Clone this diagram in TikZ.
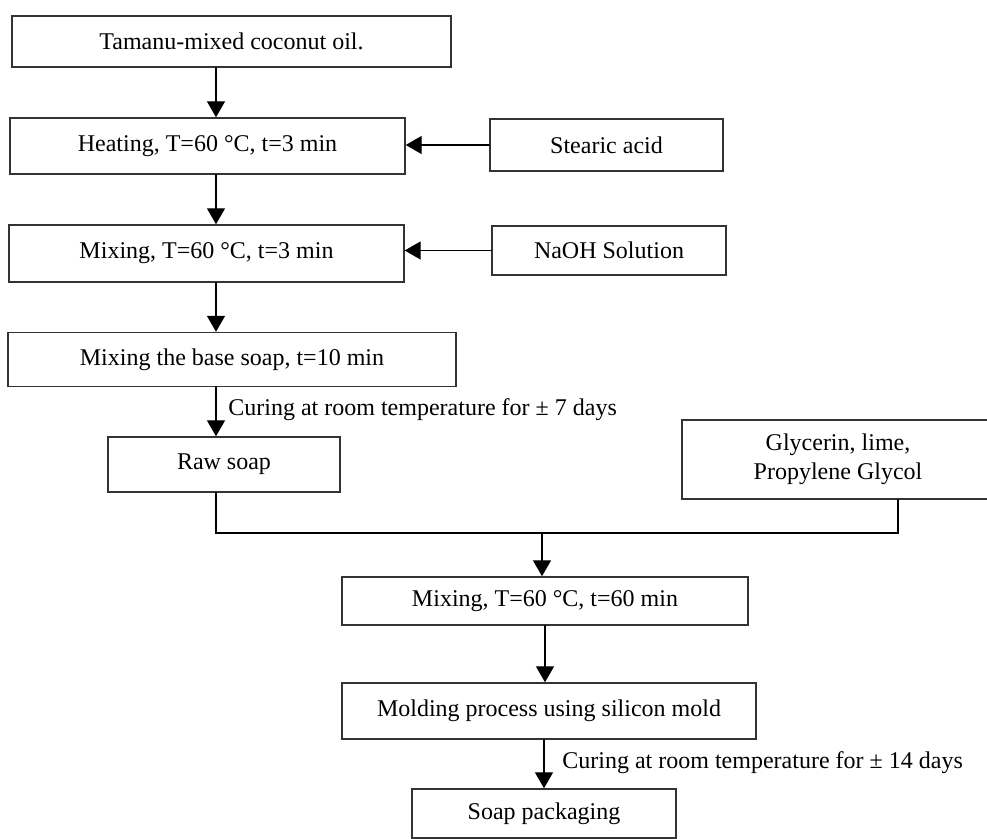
\documentclass[tikz,border=0pt]{standalone}
\usepackage{fontspec}
\setmainfont{Liberation Serif}
\usetikzlibrary{arrows.meta}
\usetikzlibrary{calc}

\begin{document}
\begin{tikzpicture}[x=0.5pt, y=-0.5pt, line cap=round,
    box/.style={draw=black!80, line width=0.7pt, inner sep=0pt, align=center, font=\fontsize{12pt}{14.5pt}\selectfont},
    flow/.style={line width=0.7pt, -{Triangle[length=8pt, width=9pt]}},
    link/.style={line width=0.7pt},
    note/.style={anchor=west, inner sep=0pt, font=\fontsize{12pt}{14.5pt}\selectfont}]

    \useasboundingbox (0, 0) rectangle (987, 839);
    \coordinate (spine) at (216, 0);

    \node[box, minimum width=219.5pt, minimum height=25.5pt] (oil) at (231.5, 41.5) {Tamanu-mixed coconut oil.};
    \node[box, minimum width=197.5pt, minimum height=28pt] (heat) at (207.5, 146) {Heating, T=60 °C, t=3 min};
    \node[box, minimum width=116.5pt, minimum height=26pt] (stearic) at (606.5, 145) {Stearic acid};
    \node[box, minimum width=197.5pt, minimum height=28.5pt] (mixA) at (206.5, 253.5) {Mixing, T=60 °C, t=3 min};
    \node[box, minimum width=117pt, minimum height=24.5pt] (naoh) at (609, 250.5) {NaOH Solution};
    \node[box, minimum width=224pt, minimum height=27pt] (base) at (232, 359.5) {Mixing the base soap, t=10 min};
    \node[box, minimum width=116pt, minimum height=27.5pt] (raw) at (224, 464.5) {Raw soap};
    \node[box, minimum width=156pt, minimum height=39.5pt] (glyc) at (838, 459.5) {Glycerin, lime,\\Propylene Glycol};
    \node[box, minimum width=203pt, minimum height=24pt] (mixB) at (545, 601) {Mixing, T=60 °C, t=60 min};
    \node[box, minimum width=207pt, minimum height=28pt] (mold) at (549, 711) {Molding process using silicon mold};
    \node[box, minimum width=132pt, minimum height=24.5pt] (pack) at (544, 813.5) {Soap packaging};

    \node[note] (cureA) at (228, 410) {Curing at room temperature for ± 7 days};
    \node[note] (cureB) at (562, 763) {Curing at room temperature for ± 14 days};

    \draw[flow] (oil.south -| spine) -- (heat.north -| spine);
    \draw[flow] (heat.south -| spine) -- (mixA.north -| spine);
    \draw[flow] (mixA.south -| spine) -- (base.north -| spine);
    \draw[flow] (base.south -| spine) -- (raw.north -| spine);
    \draw[flow] (stearic.west) -- (stearic.west -| heat.east);
    \draw[flow] (naoh.west) -- (naoh.west -| mixA.east);

    \coordinate (junction) at (542, 533);
    \coordinate (glycdrop) at (898, 0);
    \draw[link] (raw.south -| spine) |- (junction) -| (glyc.south -| glycdrop);
    \draw[flow] (junction) -- (junction |- mixB.north);
    \draw[flow] (mixB.south) -- (mixB.south |- mold.north);
    \draw[flow] (mold.south -| pack.north) -- (pack.north);

\end{tikzpicture}
\end{document}
